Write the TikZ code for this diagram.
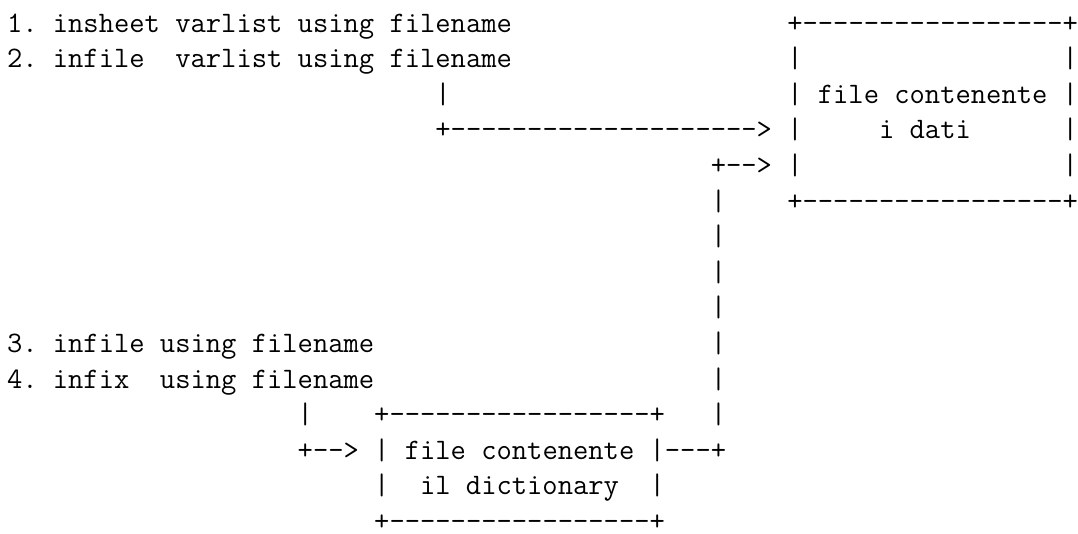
\documentclass[tikz,border=0pt]{standalone}
\newcommand\Dh{\hbox{-}}
\newcommand\Dn[1]{\foreach \k in {1,...,#1}{\Dh}}
% scale the monospaced font so that one character cell is 15.3pt wide
\newlength\cw
\settowidth\cw{\fontsize{30pt}{36pt}\selectfont\ttfamily M}
\pgfmathsetmacro\fsz{30*15.3/\cw}
\tikzset{asc/.style={anchor=base west, inner sep=0pt, outer sep=0pt, text depth=0pt,
  font=\fontsize{\fsz pt}{35.6pt}\selectfont\ttfamily\frenchspacing}}
\begin{document}
\begin{tikzpicture}[x=15.3pt,y=-35.6pt]
\useasboundingbox (-7pt,32pt) rectangle (1071pt,-501pt);
% row 0
\node[asc] (t1) at (0,0) {1. insheet varlist using filename};
\node[asc] (b1top) at (51,0) {+\Dn{17}+};
% row 1
\node[asc] (t2) at (0,1) {2. infile~~varlist using filename};
\node[asc] (b1l1) at (51,1) {|};
\node[asc] (b1r1) at (69,1) {|};
% row 2
\node[asc] (v1) at (28,2) {|};
\node[asc] (b1t1) at (51,2) {| file contenente |};
% row 3
\node[asc] (a1) at (28,3) {+\Dn{20}>};
\node[asc] (b1l3) at (51,3) {|};
\node[asc] (b1t2) at (57,3) {i dati};
\node[asc] (b1r3) at (69,3) {|};
% row 4
\node[asc] (a2) at (46,4) {+\Dn{2}>};
\node[asc] (b1l4) at (51,4) {|};
\node[asc] (b1r4) at (69,4) {|};
% row 5
\node[asc] (v2) at (46,5) {|};
\node[asc] (b1bot) at (51,5) {+\Dn{17}+};
% rows 6-8
\node[asc] (v3) at (46,6) {|};
\node[asc] (v4) at (46,7) {|};
\node[asc] (v5) at (46,8) {|};
% row 9
\node[asc] (t3) at (0,9) {3. infile using filename};
\node[asc] (v6) at (46,9) {|};
% row 10
\node[asc] (t4) at (0,10) {4. infix~~using filename};
\node[asc] (v7) at (46,10) {|};
% row 11
\node[asc] (v8) at (19,11) {|};
\node[asc] (b2top) at (24,11) {+\Dn{17}+};
\node[asc] (v9) at (46,11) {|};
% row 12
\node[asc] (a3) at (19,12) {+\Dn{2}>};
\node[asc] (b2t1) at (24,12) {| file contenente |\Dn{3}+};
% row 13
\node[asc] (b2l2) at (24,13) {|};
\node[asc] (b2t2) at (27,13) {il dictionary};
\node[asc] (b2r2) at (42,13) {|};
% row 14
\node[asc] (b2bot) at (24,14) {+\Dn{17}+};
\end{tikzpicture}
\end{document}
